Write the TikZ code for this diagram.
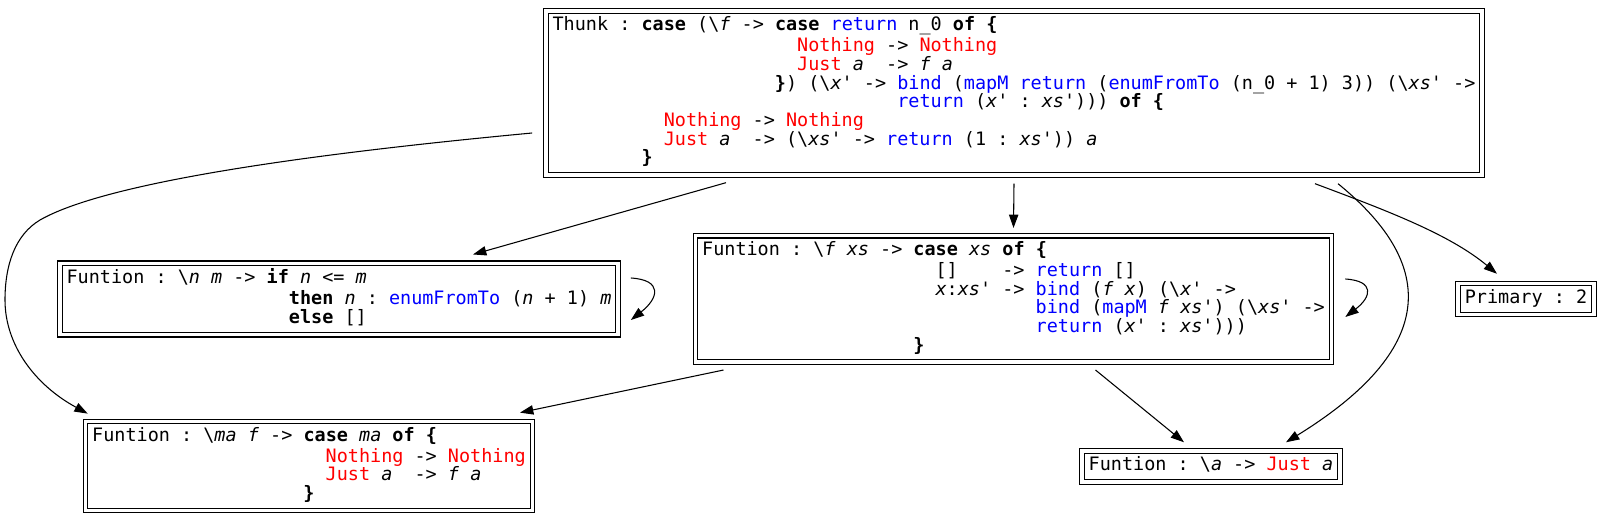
\documentclass[tikz,border=0pt]{standalone}
\usepackage{fontspec}
\setmonofont{DejaVu Sans Mono}
\usepackage{tikz}
\usetikzlibrary{arrows.meta}

\definecolor{fnblue}{RGB}{0,0,255}
\definecolor{conred}{RGB}{255,0,0}
\newcommand\hkw[1]{\textbf{#1}}
\newcommand\hfn[1]{\textcolor{fnblue}{#1}}
\newcommand\hcon[1]{\textcolor{conred}{#1}}
\newcommand\hvar[1]{\textit{#1}}
\newcommand\hbs{\textbackslash}
\newcommand\skipcols[1]{\hspace*{#1\fontcharwd\font`x}}

\begin{document}
\begin{tikzpicture}[x=0.75pt, y=-0.75pt,
  fnbox/.style={draw, double, double distance=2.6pt, line width=0.8pt,
    align=left, inner xsep=5pt, inner ysep=4.2pt, outer sep=2.1pt,
    font=\fontsize{13.85pt}{14pt}\selectfont\ttfamily},
  conn/.style={-{Triangle[length=10pt,width=7pt]}, line width=0.8pt},
]
\useasboundingbox (0,0) rectangle (1611,523);

\node[fnbox] (thunk) at (1014,93) {%
  \strut Thunk : \hkw{case} (\hbs\hvar{f} -> \hkw{case} \hfn{return} n\_0 \hkw{of \{}\\
  \skipcols{22}\hcon{Nothing} -> \hcon{Nothing}\\
  \skipcols{22}\hcon{Just} \hvar{a}\skipcols{2}-> \hvar{f} \hvar{a}\\
  \skipcols{20}\hkw{\}}) (\hbs\hvar{x'} -> \hfn{bind} (\hfn{mapM} \hfn{return} (\hfn{enumFromTo} (n\_0 + 1) 3)) (\hbs\hvar{xs'} ->\\
  \skipcols{31}\hfn{return} (\hvar{x'} : \hvar{xs'}))) \hkw{of \{}\\
  \skipcols{10}\hcon{Nothing} -> \hcon{Nothing}\\
  \skipcols{10}\hcon{Just} \hvar{a}\skipcols{2}-> (\hbs\hvar{xs'} -> \hfn{return} (1 : \hvar{xs'})) \hvar{a}\\
  \skipcols{8}\hkw{\}}\strut};

\node[fnbox] (enum) at (339,299) {%
  \strut Funtion : \hbs\hvar{n} \hvar{m} -> \hkw{if} \hvar{n} <= \hvar{m}\\
  \skipcols{20}\hkw{then} \hvar{n} : \hfn{enumFromTo} (\hvar{n} + 1) \hvar{m}\\
  \skipcols{20}\hkw{else} []\strut};

\node[fnbox] (mapM) at (1013.5,299) {%
  \strut Funtion : \hbs\hvar{f} \hvar{xs} -> \hkw{case} \hvar{xs} \hkw{of \{}\\
  \skipcols{21}[]\skipcols{4}-> \hfn{return} []\\
  \skipcols{21}\hvar{x}:\hvar{xs'} -> \hfn{bind} (\hvar{f} \hvar{x}) (\hbs\hvar{x'} ->\\
  \skipcols{30}\hfn{bind} (\hfn{mapM} \hvar{f} \hvar{xs'}) (\hbs\hvar{xs'} ->\\
  \skipcols{30}\hfn{return} (\hvar{x'} : \hvar{xs'})))\\
  \skipcols{19}\hkw{\}}\strut};

\node[fnbox] (prim) at (1526,299) {\strut Primary : 2};

\node[fnbox] (ma) at (309,466) {%
  \strut Funtion : \hbs\hvar{ma} \hvar{f} -> \hkw{case} \hvar{ma} \hkw{of \{}\\
  \skipcols{21}\hcon{Nothing} -> \hcon{Nothing}\\
  \skipcols{21}\hcon{Just} \hvar{a}\skipcols{2}-> \hvar{f} \hvar{a}\\
  \skipcols{19}\hkw{\}}\strut};

\node[fnbox] (just) at (1211,466.5) {\strut Funtion : \hbs\hvar{a} -> \hcon{Just} \hvar{a}};

\draw[conn] ([shift={(-11,40)}]thunk.west) .. controls (330,152) and (110,180) .. (40,220)
  .. controls (15,235) and (5,265) .. (5,300)
  .. controls (5,345) and (35,385) .. ([shift={(5,-5)}]ma.north west);
\draw[conn] ([shift={(-288,5)}]thunk.south) -- ([shift={(134,-6)}]enum.north);
\draw[conn] ([shift={(0,6)}]thunk.south) -- ([shift={(0,-5)}]mapM.north);
\draw[conn] ([shift={(301,6)}]thunk.south) .. controls +(75,28) and +(-47,-39) .. ([shift={(-29,-7)}]prim.north);
\draw[conn] ([shift={(324,6)}]thunk.south) .. controls +(102,83) and +(149,-92) .. ([shift={(75,-6)}]just.north);
\draw[conn] ([shift={(-290,5)}]mapM.south) -- ([shift={(211,-6)}]ma.north);
\draw[conn] ([shift={(82,5)}]mapM.south) -- ([shift={(-27,-6)}]just.north);
\draw[conn] ([shift={(10,-21)}]enum.east) .. controls +(32,2) and +(28,-22) .. ([shift={(10,21)}]enum.east);
\draw[conn] ([shift={(11,-20)}]mapM.east) .. controls +(30,2) and +(26,-20) .. ([shift={(11,18)}]mapM.east);
\end{tikzpicture}
\end{document}
